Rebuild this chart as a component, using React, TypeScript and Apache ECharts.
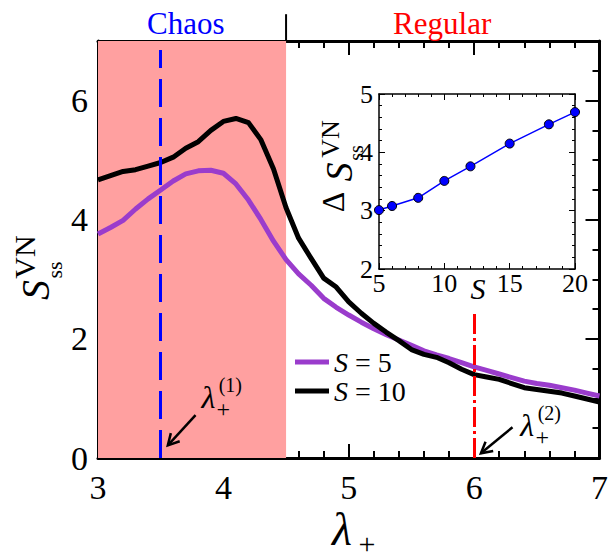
import React, { useEffect, useRef } from "react";
import * as echarts from "echarts";

// ---------- data ----------
const lambdaValues = [
  3.0, 3.1, 3.2, 3.3, 3.4, 3.5, 3.6, 3.7, 3.8, 3.9,
  4.0, 4.1, 4.2, 4.3, 4.4, 4.5, 4.6, 4.7, 4.8, 4.9,
  5.0, 5.1, 5.2, 5.3, 5.4, 5.5, 5.6, 5.7, 5.8, 5.9,
  6.0, 6.1, 6.2, 6.3, 6.4, 6.5, 6.6, 6.7, 6.8, 6.9, 7.0,
];
const entropyS5 = [
  3.76, 3.87, 3.99, 4.18, 4.35, 4.5, 4.65, 4.77, 4.82, 4.83,
  4.78, 4.6, 4.33, 4.0, 3.64, 3.33, 3.09, 2.9, 2.68, 2.53,
  2.4, 2.28, 2.17, 2.07, 1.98, 1.89, 1.8, 1.73, 1.67, 1.6,
  1.53, 1.47, 1.41, 1.35, 1.29, 1.25, 1.22, 1.18, 1.14, 1.09, 1.04,
];
const entropyS10 = [
  4.67, 4.74, 4.81, 4.84, 4.9, 4.96, 5.05, 5.2, 5.31, 5.5,
  5.65, 5.7, 5.63, 5.34, 4.85, 4.2, 3.69, 3.35, 3.02, 2.87,
  2.62, 2.43, 2.26, 2.11, 1.97, 1.82, 1.74, 1.69, 1.6, 1.49,
  1.4, 1.36, 1.32, 1.25, 1.18, 1.15, 1.12, 1.09, 1.04, 0.99, 0.94,
];
const seriesNames = ["S = 5", "S = 10"];

const insetSizes = [5, 6, 8, 10, 12, 15, 18, 20];
const insetDeltaEntropy = [3.01, 3.08, 3.22, 3.51, 3.76, 4.15, 4.48, 4.69];

const chaosRegion = [3, 4.5];
const lambda1 = 3.5;
const lambda1Top = 6.85;
const lambda2 = 6;
const lambda2Top = 2.43;

// annotation anchors in data coordinates
const lambda1Label = [3.88, 1.02];
const lambda1ArrowTail = [3.778, 0.72];
const lambda1ArrowHead = [3.557, 0.213];
const lambda2Label = [6.424, 0.55];
const lambda2ArrowTail = [6.306, 0.517];
const lambda2ArrowHead = [6.054, 0.079];
const chaosLabel = [3.7, 7.29];
const regularLabel = [5.745, 7.29];
const dividerX = 4.5;
const dividerTop = 7.45;

// ---------- styles ----------
const SERIF = "Liberation Serif";
const PURPLE = "#9a3ccc";
const FONT_CSS = `#root svg text { font-family: "Liberation Serif" !important; }`;

function mainX(position: "bottom" | "top") {
  return {
    type: "value",
    gridIndex: 0,
    position,
    min: 3,
    max: 7,
    interval: 1,
    axisLine: { show: true, onZero: false, lineStyle: { color: "#000", width: 3 } },
    axisTick: { show: true, inside: true, length: 14, lineStyle: { color: "#000", width: 2 } },
    minorTick: { show: true, splitNumber: 5, length: 7, lineStyle: { color: "#000", width: 2 } },
    axisLabel: {
      show: position === "bottom",
      color: "#000",
      fontSize: 34,
      fontFamily: SERIF,
      margin: 12,
    },
    splitLine: { show: false },
    minorSplitLine: { show: false },
  };
}

function mainYMajor(position: "left" | "right") {
  return {
    type: "value",
    gridIndex: 0,
    position,
    min: 0,
    max: 7,
    interval: 2,
    axisLine: { show: true, onZero: false, lineStyle: { color: "#000", width: 3 } },
    axisTick: { show: true, inside: true, length: 14, lineStyle: { color: "#000", width: 2 } },
    axisLabel: {
      show: position === "left",
      showMaxLabel: false,
      color: "#000",
      fontSize: 34,
      fontFamily: SERIF,
      margin: 10,
    },
    splitLine: { show: false },
  };
}

function mainYMinor(position: "left" | "right") {
  return {
    type: "value",
    gridIndex: 0,
    position,
    min: 0,
    max: 7,
    interval: 0.5,
    axisLine: { show: false },
    axisTick: { show: true, inside: true, length: 7, lineStyle: { color: "#000", width: 2 } },
    axisLabel: { show: false },
    splitLine: { show: false },
  };
}

function insetX(position: "bottom" | "top") {
  return {
    type: "value",
    gridIndex: 1,
    position,
    min: 5,
    max: 20,
    interval: 5,
    axisLine: { show: true, onZero: false, lineStyle: { color: "#000", width: 1.5 } },
    axisTick: { show: true, inside: true, length: 6, lineStyle: { color: "#000", width: 1 } },
    minorTick: { show: true, splitNumber: 5, length: 3, lineStyle: { color: "#000", width: 1 } },
    axisLabel: {
      show: position === "bottom",
      color: "#000",
      fontSize: 26,
      fontFamily: SERIF,
      margin: 1,
    },
    splitLine: { show: false },
  };
}

function insetY(position: "left" | "right") {
  return {
    type: "value",
    gridIndex: 1,
    position,
    min: 2,
    max: 5,
    interval: 1,
    axisLine: { show: true, onZero: false, lineStyle: { color: "#000", width: 1.5 } },
    axisTick: { show: true, inside: true, length: 6, lineStyle: { color: "#000", width: 1 } },
    minorTick: { show: true, splitNumber: 5, length: 3, lineStyle: { color: "#000", width: 1 } },
    axisLabel: {
      show: position === "left",
      color: "#000",
      fontSize: 26,
      fontFamily: SERIF,
      margin: 6,
    },
    splitLine: { show: false },
  };
}

function txt(x: number, y: number, text: string, size: number, opts: any = {}) {
  const style: any = {
    text,
    fill: opts.fill || "#000",
    fontFamily: SERIF,
    fontSize: size,
    textAlign: "center",
    textVerticalAlign: "middle",
  };
  if (opts.italic) style.fontStyle = "italic";
  return { type: "text", x, y, z: 100, style };
}

function arrow(tail: number[], head: number[]) {
  const dx = head[0] - tail[0];
  const dy = head[1] - tail[1];
  const L = Math.hypot(dx, dy);
  const ux = dx / L;
  const uy = dy / L;
  const len = 11;
  const w = 6;
  const p1 = [head[0] - ux * len - uy * w, head[1] - uy * len + ux * w];
  const p2 = [head[0] - ux * len + uy * w, head[1] - uy * len - ux * w];
  return [
    {
      type: "line",
      z: 100,
      shape: { x1: tail[0], y1: tail[1], x2: head[0], y2: head[1] },
      style: { stroke: "#000", lineWidth: 2.5 },
    },
    {
      type: "polyline",
      z: 100,
      shape: { points: [p1, head, p2] },
      style: { stroke: "#000", lineWidth: 2.5, fill: "none" },
    },
  ];
}

export default function App() {
  const ref = useRef<HTMLDivElement>(null);

  useEffect(() => {
    if (!ref.current) return;
    const chart = echarts.init(ref.current, null, { renderer: "svg" });

    const s5 = lambdaValues.map((x, i) => [x, entropyS5[i]]);
    const s10 = lambdaValues.map((x, i) => [x, entropyS10[i]]);
    const inset = insetSizes.map((x, i) => [x, insetDeltaEntropy[i]]);

    chart.setOption({
      animation: false,
      grid: [
        { left: 98, top: 41, width: 507, height: 417, containLabel: false },
        { left: 379, top: 94, width: 196, height: 175, containLabel: false },
      ],
      xAxis: [mainX("bottom"), mainX("top"), insetX("bottom"), insetX("top")],
      yAxis: [
        mainYMajor("left"),
        mainYMajor("right"),
        mainYMinor("left"),
        mainYMinor("right"),
        insetY("left"),
        insetY("right"),
      ],
      legend: {
        data: seriesNames,
        orient: "vertical",
        left: 295,
        top: 348,
        padding: 0,
        itemGap: 1,
        itemWidth: 34,
        itemHeight: 5,
        icon: "rect",
        formatter: (name: string) => `{i|S}{n|${name.slice(1)}}`,
        textStyle: {
          color: "#000",
          fontSize: 28,
          lineHeight: 28,
          fontFamily: SERIF,
          rich: {
            i: { fontStyle: "italic", fontSize: 28, fontFamily: SERIF, color: "#000" },
            n: { fontSize: 28, fontFamily: SERIF, color: "#000" },
          },
        },
      },
      series: [
        {
          name: seriesNames[0],
          type: "line",
          xAxisIndex: 0,
          yAxisIndex: 0,
          data: s5,
          symbol: "none",
          z: 3,
          color: PURPLE,
          lineStyle: { color: PURPLE, width: 5, join: "round" },
          markArea: {
            silent: true,
            z: 1,
            itemStyle: { color: "#ffa0a0", opacity: 1 },
            data: [[{ xAxis: chaosRegion[0] }, { xAxis: chaosRegion[1] }]],
          },
          markLine: {
            silent: true,
            symbol: ["none", "none"],
            label: { show: false },
            z: 6,
            data: [
              [
                {
                  coord: [lambda1, 0],
                  lineStyle: { color: "#0000ff", width: 3, type: [28, 11] },
                },
                { coord: [lambda1, lambda1Top] },
              ],
              [
                {
                  coord: [lambda2, 0],
                  lineStyle: { color: "#ff0000", width: 3, type: [20, 4, 3, 4] },
                },
                { coord: [lambda2, lambda2Top] },
              ],
            ],
          },
        },
        {
          name: seriesNames[1],
          type: "line",
          xAxisIndex: 0,
          yAxisIndex: 0,
          data: s10,
          symbol: "none",
          z: 4,
          color: "#000",
          lineStyle: { color: "#000", width: 5, join: "round" },
        },
        {
          name: "inset",
          type: "line",
          xAxisIndex: 2,
          yAxisIndex: 4,
          data: inset,
          symbol: "circle",
          symbolSize: 9,
          z: 5,
          lineStyle: { color: "#0000ff", width: 1.5 },
          itemStyle: { color: "#0000ff", borderColor: "#000", borderWidth: 1 },
        },
      ],
    });

    const toPx = (p: number[]) =>
      chart.convertToPixel({ xAxisIndex: 0, yAxisIndex: 0 }, p) as number[];

    const l1 = toPx(lambda1Label);
    const l2 = toPx(lambda2Label);
    const chaos = toPx(chaosLabel);
    const regular = toPx(regularLabel);
    const dTop = toPx([dividerX, dividerTop]);
    const dBot = toPx([dividerX, 7]);

    const lambdaLabel = (p: number[], sup: string) => [
      txt(p[0], p[1], "λ", 32, { italic: true }),
      txt(p[0] + 22, p[1] - 12, sup, 20),
      txt(p[0] + 15, p[1] + 12, "+", 24),
    ];

    chart.setOption({
      graphic: [
        txt(chaos[0], chaos[1], "Chaos", 31, { fill: "#0000ff" }),
        txt(regular[0], regular[1], "Regular", 31, { fill: "#ff0000" }),
        {
          type: "line",
          z: 100,
          shape: { x1: dTop[0], y1: dTop[1], x2: dBot[0], y2: dBot[1] },
          style: { stroke: "#000", lineWidth: 2 },
        },
        ...lambdaLabel(l1, "(1)"),
        ...arrow(toPx(lambda1ArrowTail), toPx(lambda1ArrowHead)),
        ...lambdaLabel(l2, "(2)"),
        ...arrow(toPx(lambda2ArrowTail), toPx(lambda2ArrowHead)),
        // main x-axis title
        txt(342, 529, "λ", 46, { italic: true }),
        txt(367, 543, "+", 30),
        // main y-axis title (rotated)
        {
          type: "group",
          x: 35,
          y: 303,
          rotation: Math.PI / 2,
          children: [
            txt(13, 0, "S", 40, { italic: true }),
            txt(33, 19, "ss", 22),
            txt(46, -11, "VN", 30),
          ],
        },
        // inset y-axis title (rotated)
        {
          type: "group",
          x: 340,
          y: 220,
          rotation: Math.PI / 2,
          children: [
            txt(18, -7, "Δ", 32),
            txt(48, -1, "S", 38, { italic: true }),
            txt(67, 16, "ss", 20),
            txt(81, -10, "VN", 26),
          ],
        },
        // inset x-axis title
        txt(478, 288, "S", 30, { italic: true }),
      ],
    });

    return () => chart.dispose();
  }, []);

  return (
    <>
      <style>{FONT_CSS}</style>
      <div
        ref={ref}
        style={{ position: "absolute", left: 0, top: 0, width: 611, height: 560, background: "#fff" }}
      />
    </>
  );
}
